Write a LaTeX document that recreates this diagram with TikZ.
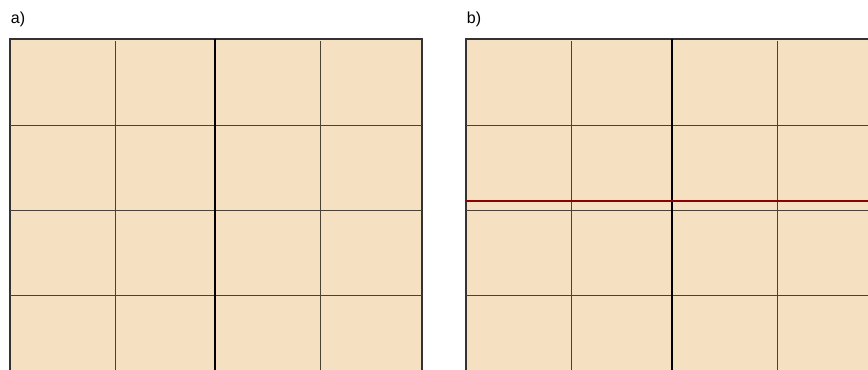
\documentclass[tikz,border=0pt]{standalone}
\usepackage{fontspec}
\setmainfont{Liberation Sans}
\usepackage{xcolor}
\usetikzlibrary{positioning}
\definecolor{board}{HTML}{F5E1C1}
\definecolor{cutred}{HTML}{8B0000}
\definecolor{gridgray}{HTML}{4A4236}

\begin{document}
\begin{tikzpicture}[
            x=0.75pt, y=-0.75pt,
            panel/.style={fill=board, draw=black!80, line width=1pt},
            thin/.style={draw=gridgray, line width=0.75pt},
            thick/.style={draw=black, line width=2pt},
            cut/.style={draw=cutred, line width=2pt},
            tag/.style={font=\fontsize{12}{14}\selectfont, inner sep=0pt}
        ]
            \useasboundingbox (0,0) rectangle (868,369);
            \clip (0,0) rectangle (868,369);
            \def\top{39} \def\bot{380}
            % labels
            \node[tag] (taga) at (18,19) {a)};
            \node[tag] (tagb) at (474,19) {b)};
            % panel a
            \draw[panel] (10,\top) rectangle (422,\bot);
            \foreach \y in {125,210,295} \draw[thin] (10,\y) -- (422,\y);
            \foreach \x in {115,320} \draw[thin] (\x,41) -- (\x,\bot);
            \draw[thick] (215,\top) -- (215,\bot);
            % panel b
            \draw[panel] (466,\top) rectangle (880,\bot);
            \foreach \y in {125,210,295} \draw[thin] (466,\y) -- (880,\y);
            \foreach \x in {571,777} \draw[thin] (\x,41) -- (\x,\bot);
            \draw[thick] (672,\top) -- (672,\bot);
            % cut line
            \draw[cut] (466,201) -- (880,201);
        \end{tikzpicture}
\end{document}
